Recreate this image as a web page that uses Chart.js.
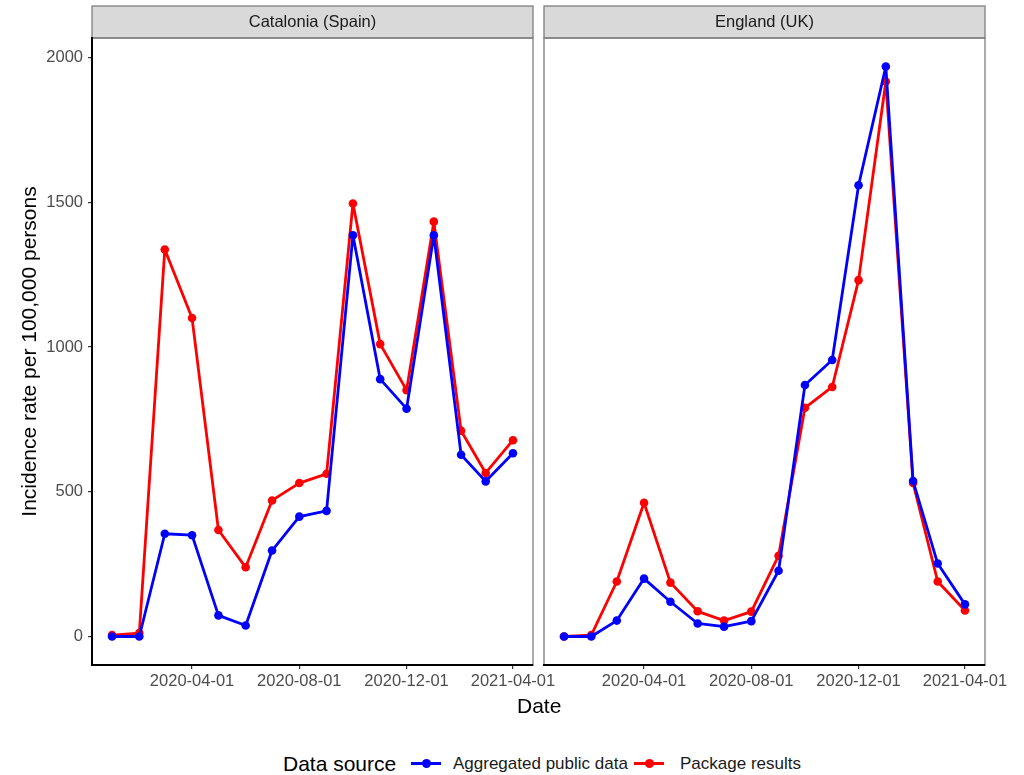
<!DOCTYPE html>
<html>
<head>
<meta charset="utf-8">
<title>Incidence rate by data source</title>
<script src="https://cdn.jsdelivr.net/npm/chart.js@4.4.1/dist/chart.umd.min.js"></script>
<style>
  body { margin: 0; background: #fff; font-family: 'Liberation Sans', Arial, sans-serif; }
  #wrap { position: relative; width: 1024px; height: 775px; overflow: hidden; }
  canvas { position: absolute; top: 0; }
  #cat { left: 0; }
  #eng { left: 524px; }
  .lbl { position: absolute; white-space: nowrap; line-height: 1; }
  .key { position: absolute; width: 30px; height: 3px; top: 762px; }
  .key::after { content: ''; position: absolute; left: 11px; top: -3px; width: 9px; height: 9px; border-radius: 50%; background: inherit; }
</style>
</head>
<body>
<div id="wrap">
  <canvas id="cat" width="580" height="720"></canvas>
  <canvas id="eng" width="500" height="720"></canvas>

  <div class="lbl" style="left:517px; top:695px; font-size:21px; color:#000;">Date</div>

  <div class="lbl" style="left:283px; top:753px; font-size:21px; color:#000;">Data source</div>
  <div class="key" style="left:411px; background:#0000ff;"></div>
  <div class="lbl" style="left:453px; top:755px; font-size:17px; color:#1a1a1a;">Aggregated public data</div>
  <div class="key" style="left:634px; background:#ff0000;"></div>
  <div class="lbl" style="left:680px; top:755px; font-size:17px; color:#1a1a1a;">Package results</div>
</div>

<script>
// monthly observations
const dates = ['2020-01-01', '2020-02-01', '2020-03-01', '2020-04-01', '2020-05-01', '2020-06-01',
  '2020-07-01', '2020-08-01', '2020-09-01', '2020-10-01', '2020-11-01', '2020-12-01',
  '2021-01-01', '2021-02-01', '2021-03-01', '2021-04-01'];

const cataloniaPublic = [0, 0, 355, 350, 73, 38, 297, 414, 434, 1386, 889, 787, 1386, 628, 536, 633];
const cataloniaPackage = [5, 12, 1337, 1100, 368, 239, 470, 530, 562, 1496, 1010, 851, 1433, 711, 565, 678];

const englandPublic = [0, 0, 55, 200, 120, 45, 34, 53, 227, 869, 955, 1559, 1969, 537, 252, 111];
const englandPackage = [0, 5, 190, 462, 186, 87, 55, 86, 279, 790, 862, 1231, 1917, 530, 190, 90];

const xTickLabels = ['2020-04-01', '2020-08-01', '2020-12-01', '2021-04-01'];
const yTickValues = [0, 500, 1000, 1500, 2000];

const seriesNames = ['Aggregated public data', 'Package results'];
const seriesColors = ['#0000ff', '#ff0000'];

const FONT = "'Liberation Sans', Arial, sans-serif";
const STRIP_TOP = 6;

const toDay = d => Date.parse(d) / 86400000;

// ggplot style 5% expansion on both axes
const xs = dates.map(toDay);
const xSpan = xs[xs.length - 1] - xs[0];
const xMin = xs[0] - xSpan * 0.05;
const xMax = xs[xs.length - 1] + xSpan * 0.05;

const allValues = [...cataloniaPublic, ...cataloniaPackage, ...englandPublic, ...englandPackage];
const yLo = Math.min(...allValues);
const yHi = Math.max(...allValues);
const yMin = yLo - (yHi - yLo) * 0.05;
const yMax = yHi + (yHi - yLo) * 0.05;

// grey strip above the panel + thin panel border
const panelFrame = {
  id: 'panelFrame',
  beforeDraw(chart) {
    const { ctx, chartArea: a } = chart;
    ctx.save();
    ctx.fillStyle = '#d9d9d9';
    ctx.fillRect(a.left, STRIP_TOP, a.width, a.top - STRIP_TOP);
    ctx.strokeStyle = '#7f7f7f';
    ctx.lineWidth = 1.3;
    ctx.strokeRect(a.left, STRIP_TOP, a.width, a.top - STRIP_TOP);
    ctx.strokeRect(a.left, a.top, a.width, a.bottom - a.top);
    ctx.restore();
  }
};

function buildDataset(name, color, values) {
  return {
    label: name,
    data: values.map((v, i) => ({ x: toDay(dates[i]), y: v })),
    borderColor: color,
    backgroundColor: color,
    borderWidth: 2.8,
    borderJoinStyle: 'round',
    borderCapStyle: 'round',
    pointRadius: 4.3,
    pointBorderWidth: 0,
    pointBackgroundColor: color,
    tension: 0
  };
}

function makePanel(canvasId, stripText, publicVals, packageVals, withYAxis, padding) {
  const ctx = document.getElementById(canvasId);
  return new Chart(ctx, {
    type: 'line',
    data: {
      datasets: [
        buildDataset(seriesNames[0], seriesColors[0], publicVals),
        buildDataset(seriesNames[1], seriesColors[1], packageVals)
      ]
    },
    options: {
      responsive: false,
      devicePixelRatio: 1,
      animation: false,
      layout: { padding: { top: STRIP_TOP, left: padding.left, right: padding.right, bottom: 0 } },
      plugins: {
        legend: { display: false },
        tooltip: { enabled: false },
        title: {
          display: true,
          text: stripText,
          fullSize: false,
          color: '#1a1a1a',
          font: { family: FONT, size: 16.5, weight: 'normal', lineHeight: 1.2 },
          padding: { top: 6.6, bottom: 5.6 }
        }
      },
      scales: {
        x: {
          type: 'linear',
          min: xMin,
          max: xMax,
          afterFit: s => { s.height = 55; },
          afterBuildTicks: s => { s.ticks = xTickLabels.map(t => ({ value: toDay(t) })); },
          ticks: {
            autoSkip: false,
            maxRotation: 0,
            padding: 3,
            color: '#4d4d4d',
            font: { family: FONT, size: 16.5 },
            callback: (v, i) => xTickLabels[i]
          },
          grid: { drawOnChartArea: false, drawTicks: true, tickLength: 4, tickColor: '#333333', lineWidth: 1.2 },
          border: { display: true, color: '#000000', width: 2 }
        },
        y: {
          display: withYAxis,
          min: yMin,
          max: yMax,
          afterFit: s => { s.width = withYAxis ? 92 : 0; },
          afterBuildTicks: s => { s.ticks = yTickValues.map(v => ({ value: v })); },
          ticks: {
            padding: 5,
            color: '#4d4d4d',
            font: { family: FONT, size: 16.5 },
            callback: v => String(v)
          },
          grid: { drawOnChartArea: false, drawTicks: true, tickLength: 4, tickColor: '#333333', lineWidth: 1.2 },
          border: { display: true, color: '#000000', width: 2 },
          title: {
            display: true,
            text: 'Incidence rate per 100,000 persons',
            color: '#000000',
            font: { family: FONT, size: 21 },
            padding: { top: 18, bottom: 0 }
          }
        }
      }
    },
    plugins: [panelFrame]
  });
}

makePanel('cat', 'Catalonia (Spain)', cataloniaPublic, cataloniaPackage, true, { left: 0, right: 47 });
makePanel('eng', 'England (UK)', englandPublic, englandPackage, false, { left: 20, right: 39 });
</script>
</body>
</html>
